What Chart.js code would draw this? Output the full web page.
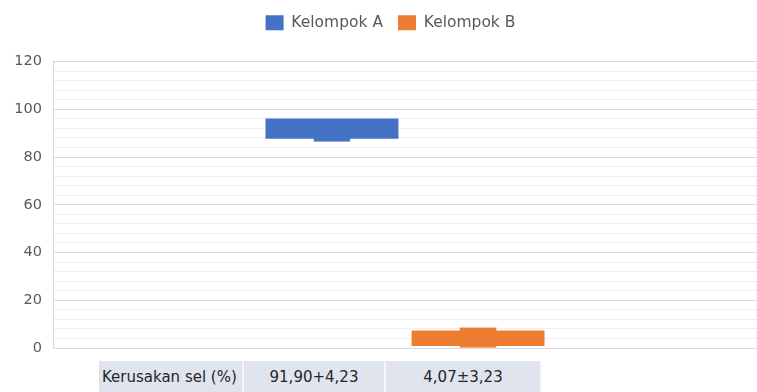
<!DOCTYPE html>
<html>
<head>
<meta charset="utf-8">
<script src="https://cdn.jsdelivr.net/npm/chart.js@4.4.0/dist/chart.umd.min.js"></script>
<style>
  html, body { margin: 0; padding: 0; background: #ffffff; }
  #wrap { position: relative; width: 757px; height: 392px; }
  #c { position: absolute; left: 0; top: 0; }
  #tbl { position: absolute; left: 99px; top: 361px; border-collapse: separate; border-spacing: 0;
         font-family: "DejaVu Sans", sans-serif; font-size: 15px; color: #262626; }
  #tbl td { background: #dfe4ef; height: 31px; padding: 0; border-right: 2px solid #f4f6fa; white-space: nowrap; }
  #tbl td.lbl { text-align: left; padding-left: 3px; }
  #tbl td.val { text-align: center; }
</style>
</head>
<body>
<div id="wrap">
  <canvas id="c" width="757" height="392"></canvas>
  <table id="tbl"><tr id="row"></tr></table>
</div>
<script>
// ---- data ----
const categories = ["Kerusakan sel (%)"];
const seriesNames = ["Kelompok A", "Kelompok B"];
const meanSdRange = [[87.67, 96.13], [0.84, 7.30]];   // mean ± SD boxes
const minMaxRange = [[86.4, 95.5], [0.1, 8.9]];        // narrow inner bars
const tableLabel = "Kerusakan sel (%)";
const tableValues = ["91,90+4,23", "4,07±3,23"];
const yTicksMajor = [0, 20, 40, 60, 80, 100, 120];

const colors = ["#4472C4", "#ED7D31"];

// table
const row = document.getElementById("row");
const widths = [145, 142, 156];
[tableLabel, ...tableValues].forEach((t, i) => {
  const td = document.createElement("td");
  td.textContent = t;
  td.className = i === 0 ? "lbl" : "val";
  td.style.width = (widths[i] - (i === 0 ? 3 : 0) - 2) + "px";
  row.appendChild(td);
});

const datasets = [];
seriesNames.forEach((name, i) => {
  datasets.push({
    label: name,
    data: [meanSdRange[i]],
    backgroundColor: colors[i],
    borderColor: colors[i],
    borderWidth: 0,
    stack: "s" + i,
    barPercentage: 0.91,
    categoryPercentage: 0.415,
    order: 1
  });
});
seriesNames.forEach((name, i) => {
  datasets.push({
    label: name + " range",
    data: [minMaxRange[i]],
    backgroundColor: colors[i],
    borderColor: "rgba(0,0,0,0.12)",
    borderWidth: 1,
    stack: "s" + i,
    barPercentage: 0.26,
    categoryPercentage: 0.415,
    order: 2
  });
});

const legendSpacer = {
  id: "legendSpacer",
  beforeInit(chart) {
    const orig = chart.legend.fit;
    chart.legend.fit = function () {
      orig.bind(chart.legend)();
      this.height += 21;
    };
  },
  afterLayout(chart) {
    chart.legend.left += 12;
    chart.legend.right += 12;
  }
};

new Chart(document.getElementById("c"), {
  type: "bar",
  data: { labels: categories, datasets },
  plugins: [legendSpacer],
  options: {
    responsive: false,
    animation: false,
    layout: { padding: { left: 0, right: 0, top: 0, bottom: 36 } },
    plugins: {
      legend: {
        position: "top",
        labels: {
          filter: (item) => item.datasetIndex < 2,
          boxWidth: 18, boxHeight: 15,
          padding: 15,
          color: "#595959",
          font: { family: "'DejaVu Sans', sans-serif", size: 15.5 }
        }
      },
      tooltip: { enabled: false }
    },
    scales: {
      x: {
        display: true,
        grid: { display: false },
        border: { display: false },
        ticks: { display: false }
      },
      y: {
        min: 0, max: 120,
        stacked: false,
        afterFit: (s) => { s.width = 53; },
        border: { display: true, color: "#d9d9d9" },
        grid: {
          color: (ctx) => (yTicksMajor.includes(ctx.tick.value) ? "#d9d9d9" : "#eeeeee"),
          lineWidth: 1,
          drawTicks: false
        },
        ticks: {
          stepSize: 4,
          autoSkip: false,
          padding: 11,
          color: "#595959",
          font: { family: "'DejaVu Sans', sans-serif", size: 14.5 },
          callback: (v) => (yTicksMajor.includes(v) ? String(v) : "")
        }
      }
    }
  }
});
</script>
</body>
</html>
